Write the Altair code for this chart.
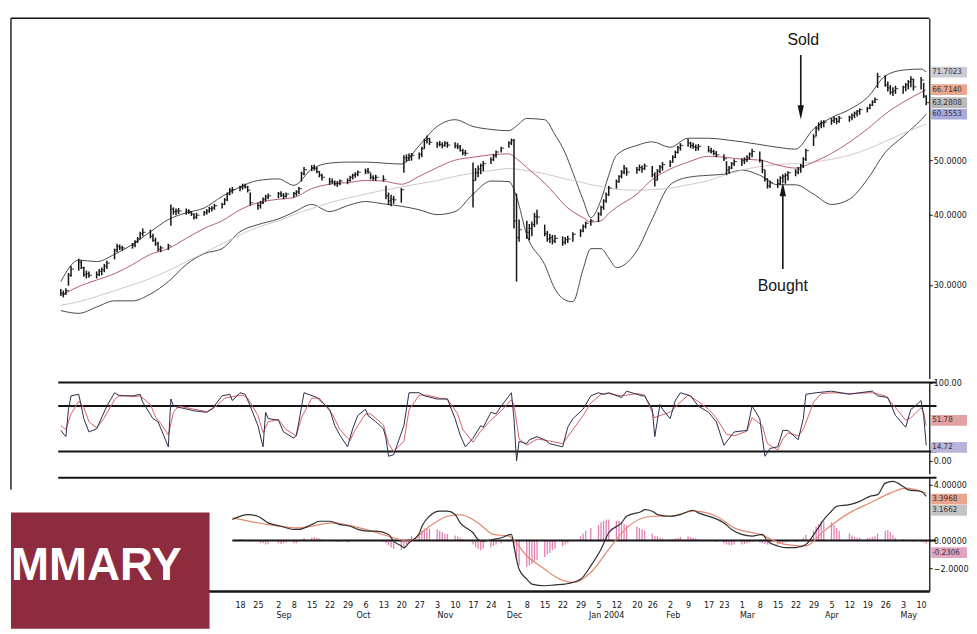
import altair as alt
import pandas as pd

# ---------------- calendar ----------------
FIRST_DAY, LAST_DAY = "2003-06-09", "2004-05-12"
HOLIDAYS = ["2003-07-04", "2003-09-01", "2003-11-27", "2003-12-25",
            "2004-01-01", "2004-01-19", "2004-02-16", "2004-04-09"]

# ---------------- daily price bars ----------------
LOW = [
    28.7, 28.5, 28.8, 29.9, 31.0,  31.8, 32.0, 31.0, 30.8, 30.9,  30.8, 31.1, 31.2, 31.6, 32.0,
    33.3, 34.3, 34.6, 34.5,  34.8, 35.0, 35.6, 36.2, 36.6,  36.3, 35.8, 35.2, 34.4, 34.3,
    34.6, 38.2, 40.0, 39.9, 40.1,  40.0, 40.1, 39.8, 39.2, 39.3,  39.8, 40.0, 40.3, 40.5, 40.8,
    41.0, 41.6, 42.3, 43.3, 43.6,  44.0, 44.3, 44.5, 43.8, 41.5,  40.8, 41.0, 41.8, 42.2, 42.6,
    42.8, 43.0, 42.6, 42.9,  42.9, 43.2, 43.5, 45.8, 47.0,  47.8, 47.9, 47.4, 46.6, 46.0,
    45.2, 45.4, 45.0, 44.8, 45.1,  45.3, 45.8, 46.2, 46.5, 46.8,  47.2, 47.3, 46.2, 46.0, 45.9,
    45.8, 42.6, 41.6, 41.4, 41.8,  42.0, 47.5, 49.6, 49.8, 49.9,  50.2, 50.6, 52.4, 53.5, 53.2,
    52.6, 52.9, 52.5, 52.8, 52.6,  52.5, 52.3, 51.8, 51.0, 50.9,  41.2, 46.0, 46.6, 47.2, 47.8,
    49.2, 49.8, 50.5, 51.6,  52.6, 53.2, 37.8, 30.4, 35.8,  36.2, 36.0, 36.6, 38.0, 38.4,
    36.6, 35.8, 35.6, 35.4, 35.6,  35.2, 35.4, 35.6, 35.8,  36.5, 37.2, 37.8, 38.2,
    38.8, 39.8, 40.8, 42.0, 43.2,  44.5, 45.6, 46.4, 47.2, 46.9,  47.3, 47.8, 47.5, 48.0,
    46.6, 44.9, 46.0, 47.4, 47.9,  48.6, 49.5, 50.4, 51.4, 52.0,  52.8, 52.5, 52.4, 51.9, 52.0,
    51.6, 51.4, 51.0, 50.6,  49.8, 47.0, 47.3, 48.2, 48.8,  48.8, 49.2, 49.6, 50.1, 50.6,
    49.5, 47.4, 45.8, 44.5, 44.6,  44.6, 45.2, 45.6, 45.4, 46.0,  46.8, 47.2, 47.5, 48.4, 49.8,
    53.0, 55.2, 56.4, 57.0, 57.2,  57.8, 58.2, 57.9, 58.3,  58.5, 58.9, 59.4, 59.8, 60.2,
    60.8, 61.6, 62.4, 63.2, 67.2,  67.5, 66.2, 65.4, 65.0, 65.6,  65.6, 66.3, 66.8, 67.4, 66.5,
    66.8, 64.5, 62.6,
]
HIGH = [
    29.5, 29.3, 29.6, 31.5, 32.4,  33.4, 33.2, 32.3, 31.8, 31.7,  31.7, 32.0, 32.2, 32.7, 33.1,
    34.8, 35.5, 35.4, 35.2,  35.6, 36.0, 36.5, 37.3, 37.8,  37.6, 37.0, 36.4, 35.8, 35.2,
    35.5, 41.7, 41.2, 41.0, 41.1,  41.0, 40.9, 40.6, 40.2, 40.3,  40.6, 40.9, 41.3, 41.4, 41.8,
    42.0, 42.8, 43.8, 44.6, 44.8,  45.0, 45.4, 45.4, 45.0, 43.8,  42.0, 42.3, 42.9, 43.4, 43.6,
    43.9, 44.0, 43.7, 43.8,  43.9, 44.2, 44.8, 47.7, 48.6,  49.0, 49.1, 48.6, 47.8, 47.3,
    46.5, 46.4, 46.0, 45.9, 46.2,  46.4, 46.9, 47.3, 47.6, 47.9,  48.3, 48.4, 47.4, 47.0, 47.1,
    47.0, 45.0, 43.8, 43.4, 43.2,  44.6, 51.0, 51.2, 51.4, 51.5,  51.6, 52.8, 54.6, 55.3, 54.8,
    53.9, 54.1, 53.8, 54.0, 53.9,  53.8, 53.6, 53.2, 52.4, 52.1,  49.5, 48.4, 48.9, 49.3, 49.8,
    50.6, 51.3, 52.0, 52.8,  54.0, 54.6, 54.5, 43.6, 39.2,  39.0, 38.5, 38.9, 40.3, 40.8,
    38.4, 37.4, 37.0, 36.8, 36.8,  36.6, 36.5, 36.7, 37.2,  37.7, 38.4, 38.9, 39.3,
    40.4, 41.5, 42.6, 43.8, 45.0,  46.2, 47.0, 48.0, 49.0, 48.5,  48.6, 49.1, 48.9, 49.3,
    48.8, 47.6, 48.2, 49.0, 49.6,  50.0, 51.0, 52.0, 53.0, 53.6,  54.5, 53.9, 53.7, 53.3, 53.4,
    53.0, 52.6, 52.2, 51.9,  51.2, 49.8, 48.8, 49.6, 50.2,  50.4, 50.6, 51.0, 51.6, 52.4,
    51.8, 50.0, 48.0, 46.4, 46.0,  46.3, 46.8, 47.2, 47.4, 47.8,  48.2, 48.6, 49.2, 50.6, 52.4,
    55.6, 57.4, 58.4, 58.8, 58.9,  59.4, 59.8, 59.5, 59.9,  60.0, 60.5, 61.0, 61.4, 61.8,
    62.2, 63.0, 63.9, 64.6, 71.5,  70.8, 69.0, 68.0, 67.4, 67.8,  67.8, 68.6, 69.4, 70.5, 69.8,
    70.3, 68.6, 65.2,
]
CLOSE = [
    29.0, 28.9, 29.3, 31.2, 32.0,  32.9, 32.2, 31.3, 31.4, 31.2,  31.3, 31.7, 31.9, 32.4, 32.8,
    34.6, 35.1, 34.9, 34.9,  35.3, 35.8, 36.2, 37.0, 37.2,  36.6, 36.0, 35.5, 34.7, 34.9,
    35.2, 40.9, 40.5, 40.6, 40.6,  40.6, 40.4, 40.1, 39.6, 39.9,  40.3, 40.6, 41.0, 41.1, 41.5,
    41.7, 42.5, 43.5, 44.2, 44.3,  44.7, 45.0, 44.8, 44.2, 42.0,  41.5, 42.0, 42.6, 43.0, 43.2,
    43.6, 43.3, 43.1, 43.5,  43.6, 43.9, 44.5, 47.3, 48.1,  48.5, 48.3, 47.7, 47.0, 46.6,
    45.8, 45.7, 45.4, 45.5, 45.9,  46.0, 46.6, 47.0, 47.2, 47.6,  47.8, 47.6, 46.6, 46.4, 46.6,
    46.2, 43.2, 42.3, 42.6, 42.5,  44.3, 50.5, 50.5, 50.9, 51.0,  51.2, 52.4, 54.2, 54.6, 53.8,
    53.4, 53.3, 53.1, 53.6, 53.2,  53.0, 52.8, 52.0, 51.5, 51.4,  46.0, 47.5, 48.2, 48.9, 49.3,
    50.1, 50.9, 51.7, 52.5,  53.6, 54.2, 39.0, 36.4, 37.6,  37.2, 37.8, 38.4, 39.7, 39.6,
    37.0, 36.2, 36.4, 35.9, 36.3,  35.7, 36.1, 36.2, 36.9,  37.4, 38.1, 38.6, 39.0,
    40.1, 41.2, 42.3, 43.4, 44.6,  45.8, 46.8, 47.6, 48.4, 47.6,  48.1, 48.5, 48.3, 48.8,
    47.1, 46.1, 47.8, 48.6, 49.1,  49.6, 50.6, 51.6, 52.6, 53.1,  53.6, 53.1, 52.8, 52.6, 52.9,
    52.0, 51.8, 51.4, 51.1,  50.3, 48.0, 48.4, 49.3, 49.7,  49.9, 50.1, 50.5, 51.3, 51.8,
    50.0, 48.1, 46.3, 45.0, 45.6,  45.4, 46.5, 46.8, 47.0, 47.5,  47.6, 48.2, 48.9, 50.2, 52.0,
    55.0, 57.0, 57.8, 58.2, 58.4,  58.8, 59.2, 58.6, 59.4,  59.6, 60.1, 60.6, 61.1, 61.5,
    61.8, 62.6, 63.4, 64.1, 70.4,  68.0, 67.2, 66.0, 66.4, 67.0,  67.4, 68.0, 68.9, 69.6, 67.5,
    69.4, 65.0, 63.2808,
]

# ---------------- Bollinger bands and averages (read at these dates) ----------------
BAND_DATES = [
    "2003-06-09", "2003-06-16", "2003-06-23", "2003-06-30", "2003-07-07", "2003-07-14", "2003-07-21",
    "2003-07-28", "2003-08-04", "2003-08-11", "2003-08-18", "2003-08-25", "2003-09-02", "2003-09-08",
    "2003-09-15", "2003-09-22", "2003-09-29", "2003-10-06", "2003-10-13", "2003-10-20", "2003-10-27",
    "2003-11-03", "2003-11-10", "2003-11-17", "2003-11-24", "2003-12-01", "2003-12-04", "2003-12-08",
    "2003-12-15", "2003-12-19", "2003-12-23", "2003-12-26", "2003-12-30", "2004-01-02", "2004-01-06",
    "2004-01-09", "2004-01-12", "2004-01-20", "2004-01-26", "2004-02-02", "2004-02-09", "2004-02-17",
    "2004-02-23", "2004-03-01", "2004-03-08", "2004-03-15", "2004-03-22", "2004-03-29", "2004-04-05",
    "2004-04-12", "2004-04-19", "2004-04-26", "2004-05-03", "2004-05-10", "2004-05-12",
]
UPPER = [
    30.4, 33.2, 33.0, 34.0, 35.4, 37.3, 39.2, 40.3, 41.1, 43.1, 44.8, 46.0, 46.3, 45.1,
    48.2, 49.4, 49.6, 49.6, 49.4, 49.2, 53.1, 57.4, 59.0, 57.4, 56.7, 56.4, 57.5, 59.3,
    59.0, 55.5, 51.5, 47.5, 42.5, 39.5, 42.5, 47.0, 51.0, 53.1, 53.9, 52.7, 54.7, 54.7,
    54.4, 53.9, 53.3, 52.7, 52.3, 56.8, 59.5, 61.5, 64.6, 70.6, 72.3, 72.6, 71.7023,
]
MIDDLE = [
    28.7, 29.8, 30.6, 31.4, 32.6, 34.0, 34.8, 36.3, 37.8, 39.0, 40.8, 42.0, 42.6, 42.9,
    44.5, 45.3, 45.6, 46.0, 45.9, 45.3, 46.8, 48.5, 50.0, 50.6, 51.1, 51.3, 50.3, 48.5,
    45.5, 43.5, 41.5, 40.5, 39.5, 38.8, 39.0, 40.2, 41.2, 43.5, 46.2, 48.2, 49.6, 50.8,
    50.6, 50.2, 50.0, 49.0, 48.4, 49.6, 51.4, 53.8, 56.8, 60.4, 63.4, 66.0, 66.714,
]
LOWER = [
    27.0, 26.7, 27.4, 28.1, 28.1, 28.9, 30.4, 32.6, 34.1, 34.8, 37.3, 38.4, 39.3, 40.4,
    41.7, 40.5, 41.5, 42.2, 41.8, 41.4, 40.8, 40.0, 40.5, 43.5, 45.9, 45.8, 43.0, 36.8,
    32.6, 29.5, 28.2, 28.0, 32.0, 34.8, 34.8, 33.5, 32.2, 34.5, 39.3, 45.2, 46.6, 47.0,
    47.2, 48.0, 47.0, 45.2, 45.2, 43.5, 41.7, 42.6, 46.2, 51.6, 55.1, 59.0, 60.3553,
]
MA50 = [
    27.6, 28.0, 28.6, 29.3, 30.0, 30.8, 31.8, 33.0, 34.2, 35.5, 36.8, 38.0, 39.0, 40.0,
    41.0, 42.0, 42.8, 43.5, 44.2, 44.8, 45.4, 46.0, 46.8, 47.4, 47.9, 48.3, 48.2, 47.9,
    47.3, 46.8, 46.3, 46.0, 45.6, 45.2, 44.9, 44.6, 44.4, 44.2, 44.3, 44.6, 45.2, 46.0,
    47.0, 48.0, 48.7, 49.1, 49.3, 49.6, 50.2, 51.0, 52.3, 54.0, 55.8, 57.5, 58.0,
]

# ---------------- stochastic %K and %D (date, value) ----------------
STOCH_K = [
    ("2003-06-09", 39), ("2003-06-11", 31), ("2003-06-12", 66), ("2003-06-13", 83), ("2003-06-16", 85),
    ("2003-06-17", 70), ("2003-06-18", 54), ("2003-06-20", 37), ("2003-06-23", 41), ("2003-06-27", 70),
    ("2003-06-30", 87), ("2003-07-02", 83), ("2003-07-07", 83), ("2003-07-10", 85), ("2003-07-11", 75),
    ("2003-07-15", 54), ("2003-07-17", 50), ("2003-07-21", 18), ("2003-07-22", 79), ("2003-07-23", 70),
    ("2003-07-31", 64), ("2003-08-05", 62), ("2003-08-07", 66), ("2003-08-11", 83), ("2003-08-14", 85),
    ("2003-08-15", 77), ("2003-08-18", 87), ("2003-08-20", 85), ("2003-08-22", 70), ("2003-08-25", 45),
    ("2003-08-27", 18), ("2003-08-28", 62), ("2003-08-29", 54), ("2003-09-02", 52), ("2003-09-04", 37),
    ("2003-09-08", 29), ("2003-09-09", 33), ("2003-09-10", 50), ("2003-09-12", 87), ("2003-09-17", 81),
    ("2003-09-22", 66), ("2003-09-24", 45), ("2003-09-26", 33), ("2003-09-29", 18), ("2003-10-01", 41),
    ("2003-10-03", 58), ("2003-10-06", 66), ("2003-10-07", 58), ("2003-10-10", 50), ("2003-10-13", 41),
    ("2003-10-14", 29), ("2003-10-15", 6), ("2003-10-17", 8), ("2003-10-21", 45), ("2003-10-23", 87),
    ("2003-10-27", 87), ("2003-10-29", 83), ("2003-11-03", 79), ("2003-11-07", 79), ("2003-11-10", 54),
    ("2003-11-12", 33), ("2003-11-14", 18), ("2003-11-17", 29), ("2003-11-20", 45), ("2003-11-21", 43),
    ("2003-11-24", 62), ("2003-11-26", 60), ("2003-11-28", 70), ("2003-12-02", 87), ("2003-12-03", 54),
    ("2003-12-04", 0), ("2003-12-05", 25), ("2003-12-08", 22), ("2003-12-09", 27), ("2003-12-12", 31),
    ("2003-12-15", 27), ("2003-12-17", 22), ("2003-12-22", 18), ("2003-12-24", 43), ("2003-12-26", 54),
    ("2003-12-30", 66), ("2004-01-02", 83), ("2004-01-05", 87), ("2004-01-07", 85), ("2004-01-09", 87),
    ("2004-01-14", 81), ("2004-01-16", 89), ("2004-01-22", 83), ("2004-01-23", 83), ("2004-01-26", 66),
    ("2004-01-27", 31), ("2004-01-29", 72), ("2004-01-30", 66), ("2004-02-02", 54), ("2004-02-04", 77),
    ("2004-02-06", 87), ("2004-02-10", 83), ("2004-02-13", 70), ("2004-02-17", 62), ("2004-02-20", 50),
    ("2004-02-23", 20), ("2004-02-26", 33), ("2004-02-27", 37), ("2004-03-03", 39), ("2004-03-05", 70),
    ("2004-03-08", 54), ("2004-03-10", 6), ("2004-03-12", 16), ("2004-03-15", 18), ("2004-03-17", 39),
    ("2004-03-19", 39), ("2004-03-23", 27), ("2004-03-25", 54), ("2004-03-26", 85), ("2004-03-30", 87),
    ("2004-04-05", 89), ("2004-04-12", 85), ("2004-04-16", 87), ("2004-04-21", 89), ("2004-04-23", 83),
    ("2004-04-27", 81), ("2004-04-30", 58), ("2004-05-04", 43), ("2004-05-06", 66), ("2004-05-07", 68),
    ("2004-05-10", 77), ("2004-05-11", 58), ("2004-05-12", 20),
]
STOCH_D = [
    ("2003-06-09", 45), ("2003-06-11", 40), ("2003-06-13", 60), ("2003-06-16", 76), ("2003-06-18", 68),
    ("2003-06-20", 50), ("2003-06-23", 42), ("2003-06-26", 55), ("2003-06-30", 78), ("2003-07-02", 84),
    ("2003-07-08", 82), ("2003-07-10", 83), ("2003-07-14", 72), ("2003-07-16", 56), ("2003-07-18", 48),
    ("2003-07-21", 33), ("2003-07-23", 62), ("2003-07-25", 70), ("2003-07-31", 66), ("2003-08-05", 63),
    ("2003-08-08", 68), ("2003-08-12", 80), ("2003-08-15", 82), ("2003-08-19", 84), ("2003-08-21", 80),
    ("2003-08-25", 58), ("2003-08-27", 36), ("2003-08-29", 50), ("2003-09-02", 53), ("2003-09-05", 40),
    ("2003-09-09", 32), ("2003-09-11", 55), ("2003-09-15", 80), ("2003-09-18", 80), ("2003-09-23", 60),
    ("2003-09-26", 40), ("2003-09-30", 26), ("2003-10-02", 40), ("2003-10-06", 60), ("2003-10-08", 60),
    ("2003-10-13", 46), ("2003-10-15", 22), ("2003-10-17", 12), ("2003-10-21", 25), ("2003-10-23", 65),
    ("2003-10-27", 84), ("2003-10-30", 84), ("2003-11-04", 80), ("2003-11-07", 79), ("2003-11-11", 60),
    ("2003-11-13", 40), ("2003-11-17", 24), ("2003-11-20", 38), ("2003-11-24", 52), ("2003-11-28", 64),
    ("2003-12-02", 78), ("2003-12-03", 72), ("2003-12-05", 28), ("2003-12-08", 20), ("2003-12-12", 28),
    ("2003-12-16", 26), ("2003-12-22", 22), ("2003-12-26", 40), ("2003-12-30", 58), ("2004-01-02", 74),
    ("2004-01-06", 85), ("2004-01-09", 86), ("2004-01-14", 83), ("2004-01-20", 86), ("2004-01-23", 84),
    ("2004-01-27", 55), ("2004-01-29", 58), ("2004-02-02", 62), ("2004-02-05", 72), ("2004-02-09", 84),
    ("2004-02-12", 78), ("2004-02-17", 66), ("2004-02-20", 55), ("2004-02-24", 34), ("2004-02-27", 32),
    ("2004-03-03", 38), ("2004-03-05", 55), ("2004-03-09", 45), ("2004-03-11", 22), ("2004-03-15", 14),
    ("2004-03-17", 28), ("2004-03-19", 36), ("2004-03-23", 32), ("2004-03-25", 40), ("2004-03-29", 75),
    ("2004-04-01", 86), ("2004-04-06", 87), ("2004-04-12", 86), ("2004-04-21", 87), ("2004-04-26", 83),
    ("2004-04-30", 68), ("2004-05-04", 52), ("2004-05-06", 55), ("2004-05-10", 68), ("2004-05-11", 62),
    ("2004-05-12", 45),
]
STOCH_LEVELS = [100, 70, 12]

# ---------------- MACD (date, value) ----------------
MACD = [
    ("2003-08-15", 1.50), ("2003-08-21", 1.86), ("2003-08-25", 1.74), ("2003-08-29", 1.26),
    ("2003-09-03", 1.02), ("2003-09-08", 0.79), ("2003-09-10", 0.79), ("2003-09-15", 1.14),
    ("2003-09-18", 1.38), ("2003-09-22", 1.38), ("2003-09-26", 1.14), ("2003-09-30", 1.02),
    ("2003-10-03", 0.79), ("2003-10-07", 0.67), ("2003-10-10", 0.67), ("2003-10-15", 0.43),
    ("2003-10-17", -0.05), ("2003-10-20", -0.40), ("2003-10-21", -0.52), ("2003-10-23", -0.17),
    ("2003-10-27", 0.50), ("2003-10-28", 1.00), ("2003-10-31", 1.74), ("2003-11-04", 2.10),
    ("2003-11-07", 2.10), ("2003-11-10", 1.86), ("2003-11-12", 1.26), ("2003-11-17", 0.55),
    ("2003-11-19", 0.07), ("2003-11-21", -0.05), ("2003-11-25", 0.07), ("2003-11-28", 0.19),
    ("2003-12-02", 0.43), ("2003-12-03", -0.40), ("2003-12-04", -1.36), ("2003-12-05", -2.07),
    ("2003-12-08", -2.79), ("2003-12-10", -3.14), ("2003-12-15", -3.26), ("2003-12-19", -3.20),
    ("2003-12-23", -3.14), ("2003-12-29", -2.79), ("2004-01-02", -1.83), ("2004-01-06", -0.64),
    ("2004-01-09", 0.55), ("2004-01-14", 1.26), ("2004-01-16", 1.74), ("2004-01-22", 2.10),
    ("2004-01-23", 2.21), ("2004-01-26", 2.10), ("2004-01-28", 1.86), ("2004-02-02", 1.74),
    ("2004-02-06", 1.86), ("2004-02-11", 2.17), ("2004-02-13", 1.98), ("2004-02-19", 1.62),
    ("2004-02-23", 1.26), ("2004-02-26", 0.79), ("2004-03-01", 0.43), ("2004-03-05", 0.31),
    ("2004-03-09", 0.43), ("2004-03-11", -0.05), ("2004-03-15", -0.40), ("2004-03-18", -0.52),
    ("2004-03-22", -0.52), ("2004-03-26", -0.29), ("2004-03-30", 0.67), ("2004-04-02", 1.50),
    ("2004-04-05", 2.10), ("2004-04-07", 2.45), ("2004-04-12", 2.57), ("2004-04-16", 2.81),
    ("2004-04-20", 3.17), ("2004-04-23", 3.29), ("2004-04-26", 4.12), ("2004-04-29", 4.24),
    ("2004-05-03", 3.88), ("2004-05-05", 3.64), ("2004-05-10", 3.52), ("2004-05-12", 3.1662),
]
SIGNAL = [
    ("2003-08-15", 1.62), ("2003-08-29", 1.14), ("2003-09-10", 0.90), ("2003-09-23", 1.26),
    ("2003-10-06", 0.79), ("2003-10-17", 0.19), ("2003-10-23", -0.05), ("2003-10-31", 1.02),
    ("2003-11-07", 1.74), ("2003-11-12", 1.86), ("2003-11-19", 1.26), ("2003-11-25", 0.43),
    ("2003-12-01", 0.31), ("2003-12-08", -1.12), ("2003-12-15", -2.07), ("2003-12-19", -2.60),
    ("2003-12-26", -3.02), ("2004-01-02", -2.31), ("2004-01-09", -0.64), ("2004-01-16", 0.90),
    ("2004-01-26", 1.74), ("2004-02-02", 1.74), ("2004-02-11", 2.10), ("2004-02-20", 1.74),
    ("2004-02-27", 0.90), ("2004-03-08", 0.43), ("2004-03-18", -0.29), ("2004-03-26", -0.40),
    ("2004-04-02", 0.67), ("2004-04-12", 1.98), ("2004-04-20", 2.69), ("2004-04-28", 3.40),
    ("2004-05-04", 3.76), ("2004-05-12", 3.3968),
]
HIST_START = "2003-08-18"
HIST = [
    0.1, 0.1, 0.0, 0.0, -0.1,  -0.1, -0.2, -0.2, -0.3, -0.25,  -0.2, -0.25, -0.2, -0.15,
    -0.2, -0.2, -0.1, 0.05, 0.15,  0.2, 0.25, 0.2, 0.15, 0.1,  0.05, 0.0, -0.05, -0.1, -0.1,
    -0.15, -0.1, -0.05, 0.0, 0.05,  0.05, 0.05, 0.0, -0.05, -0.05,  -0.1, -0.2, -0.35, -0.5, -0.6,
    -0.7, -0.6, -0.3, 0.1, 0.3,  0.5, 0.7, 0.85, 0.9, 0.85,  0.8, 0.7, 0.6, 0.5, 0.45,
    0.35, 0.3, 0.2, 0.1, 0.0,  -0.3, -0.5, -0.6, -0.7, -0.6,  -0.5, -0.4, -0.3, -0.2,
    -0.1, 0.1, -0.6, -1.4, -1.8,  -1.9, -1.8, -1.7, -1.5, -1.4,  -1.2, -1.0, -0.9, -0.7, -0.6,
    -0.4, -0.3, -0.2, 0.0,  0.3, 0.5, 0.7, 0.9,  1.1, 1.3, 1.4, 1.5, 1.5,  1.4, 1.4, 1.3, 1.2, 1.1,
    1.0, 0.9, 0.8, 0.7,  0.5, 0.3, 0.3, 0.2, 0.15,  0.1, 0.1, 0.15, 0.2, 0.25,  0.3, 0.25, 0.2, 0.15, 0.1,
    0.05, 0.0, -0.05, -0.1,  -0.2, -0.3, -0.35, -0.35, -0.3,  -0.3, -0.25, -0.2, -0.15, -0.1,
    -0.15, -0.2, -0.25, -0.3, -0.3,  -0.3, -0.25, -0.2, -0.15, -0.1,  -0.1, -0.05, 0.0, 0.2, 0.4,
    0.7, 1.0, 1.2, 1.4, 1.35,  1.3, 1.1, 0.9, 0.7,  0.5, 0.35, 0.25, 0.2, 0.2,
    0.2, 0.2, 0.25, 0.3, 0.5,  0.7, 0.75, 0.6, 0.4, 0.2,  0.1, 0.05, 0.0, -0.05, -0.1,
    -0.1, -0.15, -0.2306,
]
MACD_TOP_START, MACD_ZERO_START, LINES_END = "2003-06-08", "2003-08-15", "2004-05-16"

# ---------------- annotations ----------------
ANN_TEXT = ["Sold", "Bought"]
ANN_DATES = ["2004-03-25", "2004-03-17"]
ANN_PRICES = [81.8, 29.8]
ARROW_DATES = ["2004-03-24", "2004-03-17"]
ARROW_FROM = [76.9, 32.0]
ARROW_HEAD = [60.8, 44.4]
ARROW_DIR = ["down", "up"]

# ---------------- axis ticks and value tags ----------------
DAY_TICKS = [
    "2003-08-18", "2003-08-25", "2003-09-02", "2003-09-08", "2003-09-15", "2003-09-22", "2003-09-29",
    "2003-10-06", "2003-10-13", "2003-10-20", "2003-10-27", "2003-11-03", "2003-11-10", "2003-11-17",
    "2003-11-24", "2003-12-01", "2003-12-08", "2003-12-15", "2003-12-22", "2003-12-29", "2004-01-05",
    "2004-01-12", "2004-01-20", "2004-01-26", "2004-02-02", "2004-02-09", "2004-02-17", "2004-02-23",
    "2004-03-01", "2004-03-08", "2004-03-15", "2004-03-22", "2004-03-29", "2004-04-05", "2004-04-12",
    "2004-04-19", "2004-04-26", "2004-05-03", "2004-05-10",
]
MONTH_TICKS = ["2003-09-04", "2003-10-05", "2003-11-06", "2003-12-03", "2004-01-08",
               "2004-02-03", "2004-03-03", "2004-04-05", "2004-05-05"]
PRICE_TICKS = [30, 40, 50]
STOCH_TICKS = [0, 100]
MACD_TICKS = [4, 0, -2]
# (value, background, vertical nudge in px)
PRICE_TAGS = [(71.7023, "#cbcbd4", 0), (66.7140, "#eaa68e", 0), (63.2808, "#bababa", 0), (60.3553, "#aaaadc", 0)]
STOCH_TAGS = [(51.78, "#e3a2a2", 0), (14.72, "#b9b5d8", -2)]
MACD_TAGS = [(SIGNAL[-1][1], "#e9a38f", 6), (MACD[-1][1], "#c4c4c4", 14), (HIST[-1], "#e2a4c2", 9)]

# ---------------- layout / scales ----------------
W = 925
H_PRICE, H_STOCH, H_MACD = 363, 92, 114
X_START, X_END = "2003-05-20 13:10", "2004-05-13 04:50"
NARROW = "Liberation Sans Narrow, Arial Narrow, DejaVu Sans Condensed, sans-serif"
INK = "#151515"


def ts(s):
    return int(pd.Timestamp(s, tz="UTC").value // 1_000_000)


XSCALE = alt.Scale(type="utc", domain=[ts(X_START), ts(X_END)], nice=False)
PRICE_SCALE = alt.Scale(type="log", domain=[20.44, 89.42], nice=False, zero=False)
STOCH_SCALE = alt.Scale(domain=[-16.46, 100], nice=False, zero=False)
MACD_SCALE = alt.Scale(domain=[-3.64, 4.5], nice=False, zero=False)

RIGHT = dict(orient="right", tickSize=3, tickColor=INK, domainColor=INK, domainWidth=1.3,
             labelPadding=1, grid=False, title=None, labelFontSize=9, labelFont=NARROW,
             labelColor=INK)
PRICE_AXIS = alt.Axis(values=PRICE_TICKS, format=".4f", **RIGHT)
STOCH_AXIS = alt.Axis(values=STOCH_TICKS, format=".2f", **RIGHT)
MACD_AXIS = alt.Axis(values=MACD_TICKS, labelExpr="slice(format(datum.value, '.5f'), 0, 7)", **RIGHT)
DAY_AXIS = alt.Axis(orient="bottom", values=[ts(d) for d in DAY_TICKS],
                    labelExpr="utcFormat(datum.value, '%-d')",
                    ticks=False, domain=True, domainWidth=2.4, domainColor=INK, labelPadding=10,
                    labelOverlap=False, labelFlush=False, grid=False, title=None,
                    labelFontSize=9, labelFont=NARROW, labelColor=INK)
MONTH_AXIS = alt.Axis(orient="bottom", values=[ts(d) for d in MONTH_TICKS],
                      labelExpr="utcFormat(datum.value, '%b') == 'Jan' ? 'Jan 2004' : utcFormat(datum.value, '%b')",
                      ticks=False, domain=False, labelPadding=20, labelOverlap=False, labelFlush=False,
                      grid=False, title=None, labelFontSize=9, labelFont=NARROW, labelColor=INK)

RECT_TAG = "M-1,-0.3L1,-0.3L1,0.3L-1,0.3Z"
HEAD_DOWN = "M-0.45,-1L0.45,-1L0,1Z"
HEAD_UP = "M-0.45,1L0.45,1L0,-1Z"


def X(axis=None):
    return alt.X("date:T", scale=XSCALE, axis=axis, title=None)


# ---------------- frames ----------------
trade_days = [d.strftime("%Y-%m-%d") for d in pd.bdate_range(FIRST_DAY, LAST_DAY)]
trade_days = [d for d in trade_days if d not in HOLIDAYS]
n = min(len(trade_days), len(LOW), len(HIGH), len(CLOSE))
price_df = pd.DataFrame({"date": trade_days[:n], "low": LOW[:n], "high": HIGH[:n], "close": CLOSE[:n]})

band_rows = []
for name, vals in [("upper", UPPER), ("lower", LOWER), ("ma50", MA50), ("middle", MIDDLE)]:
    for d, v in zip(BAND_DATES, vals):
        band_rows.append({"date": d, "value": v, "series": name})
band_df = pd.DataFrame(band_rows)

ann_df = pd.DataFrame({"date": ANN_DATES, "price": ANN_PRICES, "text": ANN_TEXT})
arrow_df = pd.DataFrame({"date": ARROW_DATES, "start": ARROW_FROM, "head": ARROW_HEAD, "dir": ARROW_DIR})
dummy = pd.DataFrame({"k": [0]})


def tag_layers(tags, scale, fmt):
    layers = []
    for value, color, nudge in tags:
        df = pd.DataFrame({"value": [value], "label": [format(value, fmt)]})
        y = alt.Y("value:Q", scale=scale, axis=None, title=None)
        layers.append(alt.Chart(df).mark_point(shape=RECT_TAG, filled=True, size=1300, opacity=1,
                                               color=color, yOffset=nudge).encode(
            x=alt.value(W + 20), y=y))
        layers.append(alt.Chart(df).mark_text(align="left", baseline="middle", fontSize=8, font=NARROW,
                                              color="#333", dy=nudge).encode(
            x=alt.value(W + 3), y=y, text="label:N"))
    return layers


# ---------------- price panel ----------------
bands = alt.Chart(band_df).mark_line(strokeWidth=1, interpolate="monotone").encode(
    x=X(), y=alt.Y("value:Q", scale=PRICE_SCALE, axis=None, title=None),
    color=alt.Color("series:N", legend=None,
                    scale=alt.Scale(domain=["upper", "lower", "ma50", "middle"],
                                    range=["#4a4a4a", "#4a4a4a", "#d3c6ca", "#b65c78"])),
    detail="series:N")
bars = alt.Chart(price_df).mark_rule(color=INK, strokeWidth=1.5).encode(
    x=X(), y=alt.Y("low:Q", scale=PRICE_SCALE, axis=PRICE_AXIS, title=None), y2="high:Q")
closes = alt.Chart(price_df).mark_tick(color=INK, orient="horizontal", size=3, thickness=1.2,
                                       xOffset=1.5).encode(
    x=X(), y=alt.Y("close:Q", scale=PRICE_SCALE, axis=None, title=None))
shafts = alt.Chart(arrow_df).mark_rule(color=INK, strokeWidth=1.6).encode(
    x=X(), y=alt.Y("start:Q", scale=PRICE_SCALE, axis=None, title=None), y2="head:Q")
heads = alt.Chart(arrow_df).mark_point(filled=True, size=200, opacity=1, color=INK).encode(
    x=X(), y=alt.Y("head:Q", scale=PRICE_SCALE, axis=None, title=None),
    shape=alt.Shape("dir:N", legend=None,
                    scale=alt.Scale(domain=["down", "up"], range=[HEAD_DOWN, HEAD_UP])))
labels = alt.Chart(ann_df).mark_text(fontSize=16, font="Liberation Sans", color=INK,
                                     baseline="middle").encode(
    x=X(), y=alt.Y("price:Q", scale=PRICE_SCALE, axis=None, title=None), text="text:N")
top_line = alt.Chart(dummy).mark_rule(color=INK, strokeWidth=1.4).encode(
    x=alt.value(0), x2=alt.value(W), y=alt.value(0))
left_line = alt.Chart(dummy).mark_rule(color=INK, strokeWidth=1.4).encode(
    x=alt.value(0), y=alt.value(0), y2=alt.value(475))

price_panel = alt.layer(
    bands, bars, closes, shafts, heads, labels, top_line, left_line,
    *tag_layers(PRICE_TAGS, PRICE_SCALE, ".4f")
).resolve_axis(y="independent").properties(width=W, height=H_PRICE)

# ---------------- stochastic panel ----------------
k_df = pd.DataFrame(STOCH_K, columns=["date", "value"])
d_df = pd.DataFrame(STOCH_D, columns=["date", "value"])
lvl_df = pd.DataFrame({"level": STOCH_LEVELS, "date": [MACD_TOP_START] * len(STOCH_LEVELS),
                       "end": [LINES_END] * len(STOCH_LEVELS)})
stoch_rules = alt.Chart(lvl_df).mark_rule(color=INK, strokeWidth=2).encode(
    x=X(), x2="end:T", y=alt.Y("level:Q", scale=STOCH_SCALE, axis=STOCH_AXIS, title=None))
k_line = alt.Chart(k_df).mark_line(color="#2b2b4e", strokeWidth=1).encode(
    x=X(), y=alt.Y("value:Q", scale=STOCH_SCALE, axis=None, title=None))
d_line = alt.Chart(d_df).mark_line(color="#d9606a", strokeWidth=1).encode(
    x=X(), y=alt.Y("value:Q", scale=STOCH_SCALE, axis=None, title=None))
stoch_panel = alt.layer(
    stoch_rules, d_line, k_line, *tag_layers(STOCH_TAGS, STOCH_SCALE, ".2f")
).resolve_axis(y="independent").properties(width=W, height=H_STOCH)

# ---------------- MACD panel ----------------
macd_df = pd.DataFrame(MACD, columns=["date", "value"])
sig_df = pd.DataFrame(SIGNAL, columns=["date", "value"])
hist_days = [d for d in trade_days if d >= HIST_START]
m = min(len(hist_days), len(HIST))
hist_df = pd.DataFrame({"date": hist_days[:m], "hist": HIST[:m]})
mlvl_df = pd.DataFrame({"level": [4.5, 0.0], "date": [MACD_TOP_START, MACD_ZERO_START],
                        "end": [LINES_END, LINES_END]})

hist_bars = alt.Chart(hist_df).mark_rule(color="#e27fb4", strokeWidth=1.3).encode(
    x=X(MONTH_AXIS), y=alt.Y("hist:Q", scale=MACD_SCALE, axis=None, title=None), y2=alt.datum(0))
macd_rules = alt.Chart(mlvl_df).mark_rule(color=INK, strokeWidth=2).encode(
    x=X(), x2="end:T", y=alt.Y("level:Q", scale=MACD_SCALE, axis=MACD_AXIS, title=None))
sig_line = alt.Chart(sig_df).mark_line(color="#e3876c", strokeWidth=1.2, interpolate="monotone").encode(
    x=X(), y=alt.Y("value:Q", scale=MACD_SCALE, axis=None, title=None))
macd_line = alt.Chart(macd_df).mark_line(color="#2e2e2e", strokeWidth=1.2, interpolate="monotone").encode(
    x=X(DAY_AXIS), y=alt.Y("value:Q", scale=MACD_SCALE, axis=None, title=None))
box = alt.Chart(dummy).mark_rect(color="#8d2c3e").encode(
    x=alt.value(0), x2=alt.value(200), y=alt.value(35), y2=alt.value(152))
box_text = alt.Chart(dummy).mark_text(text="MMARY", font="Liberation Sans", fontWeight="bold",
                                      fontSize=46, color="white", align="left",
                                      baseline="alphabetic").encode(
    x=alt.value(0), y=alt.value(103))

macd_panel = alt.layer(
    hist_bars, macd_rules, sig_line, macd_line, box, box_text,
    *tag_layers(MACD_TAGS, MACD_SCALE, ".4f")
).resolve_axis(x="independent", y="independent").properties(width=W, height=H_MACD)

chart = alt.vconcat(price_panel, stoch_panel, macd_panel, spacing=4, bounds="flush").properties(
    padding={"left": 2, "top": 7, "right": 0, "bottom": 0}, background="white"
).configure_view(stroke=None)

chart.save("out.html", embed_options={"renderer": "svg", "actions": False})
